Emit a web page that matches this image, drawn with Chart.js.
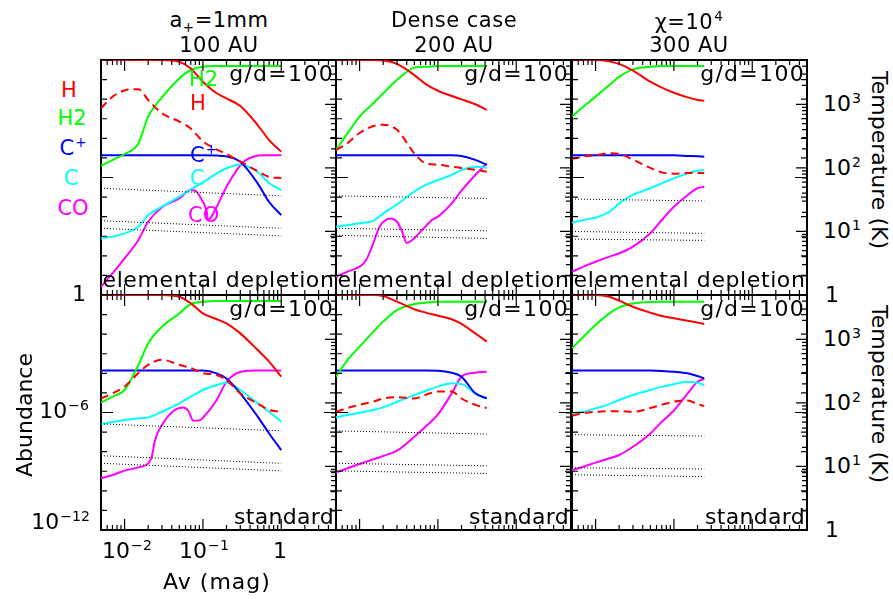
<!DOCTYPE html>
<html>
<head>
<meta charset="utf-8">
<script src="https://cdn.jsdelivr.net/npm/chart.js@4.4.1/dist/chart.umd.min.js"></script>
<style>
  body { margin: 0; background: #fff; }
  #wrap { position: relative; width: 893px; height: 599px; overflow: hidden; font-family: "DejaVu Sans", sans-serif; color: #000; }
  #wrap canvas { position: absolute; }
  .t { position: absolute; white-space: nowrap; font-size: 22px; line-height: 1; }
  .sp { font-size: 0.64em; position: relative; top: -0.6em; margin-left: 1px; }
  .sb { font-size: 0.64em; position: relative; top: 0.35em; }
</style>
</head>
<body>
<div id="wrap"></div>
<script>
// ---- axis ticks ----
const xTickVals = [0.005, 0.006, 0.007, 0.008, 0.009, 0.01, 0.02, 0.03, 0.04, 0.05, 0.06, 0.07, 0.08, 0.09,
  0.1, 0.2, 0.3, 0.4, 0.5, 0.6, 0.7, 0.8, 0.9, 1, 2, 3, 4, 5];
const xMajorVals = [0.01, 0.1, 1];
const abTickVals = [1, 1e-1, 1e-2, 1e-3, 1e-4, 1e-5, 1e-6, 1e-7, 1e-8, 1e-9, 1e-10, 1e-11, 1e-12];
const abMajorVals = [1, 1e-6, 1e-12];
const tTickVals = [1, 2, 3, 4, 5, 6, 7, 8, 9, 10, 20, 30, 40, 50, 60, 70, 80, 90,
  100, 200, 300, 400, 500, 600, 700, 800, 900, 1000, 2000, 3000, 4000, 5000];
const tMajorVals = [1, 10, 100, 1000];

// ---- Av grids (mag) ----
const avFull = [0.005, 0.007, 0.01, 0.015, 0.02, 0.03, 0.05, 0.07, 0.1, 0.15, 0.2, 0.3, 0.5, 0.7, 1];
const avMid = [0.005, 0.007, 0.01, 0.015, 0.02, 0.03, 0.05, 0.07, 0.1, 0.15, 0.2, 0.3, 0.42];
const avShort = [0.005, 0.007, 0.01, 0.015, 0.02, 0.03, 0.05, 0.07, 0.1, 0.15, 0.2, 0.244];

// abundances are log10, temperatures are log10(K)
// panel 1: a+=1mm, 100 AU, elemental depletion
const p1H = [0, 0, 0, 0, 0, 0, -0.09, -0.43, -1.11, -1.70, -1.96, -2.35, -3.32, -4.09, -4.68];
const p1H2 = [-5.40, -5.11, -4.80, -4.26, -2.89, -1.91, -0.94, -0.51, -0.34, -0.31, -0.31, -0.31, -0.31, -0.31, -0.31];
const p1Cp = [-4.87, -4.87, -4.87, -4.87, -4.87, -4.87, -4.87, -4.87, -4.87, -4.88, -4.92, -5.20, -6.30, -7.25, -7.92];
const p1C = [-9.11, -9.02, -8.85, -8.51, -7.92, -7.49, -6.98, -6.61, -6.25, -5.79, -5.53, -5.33, -5.72, -6.28, -6.64];
const p1COav = [0.005, 0.007, 0.01, 0.015, 0.02, 0.03, 0.05, 0.069, 0.079, 0.097, 0.112, 0.116, 0.15, 0.2, 0.27, 0.33, 0.44, 0.6, 1];
const p1CO = [-11.58, -10.90, -10.13, -9.19, -8.26, -7.52, -7.07, -6.64, -6.66, -7.15, -7.75, -8.17, -7.49, -6.47, -5.62, -5.19, -4.94, -4.87, -4.87];
const p1T = [2.94, 3.12, 3.22, 3.24, 3.07, 2.86, 2.73, 2.62, 2.42, 2.29, 2.22, 2.10, 1.95, 1.86, 1.84];
const p1Dust = [[1.68, 1.56], [1.17, 1.05], [1.05, 0.93]];

// panel 2: dense case, 200 AU, elemental depletion
const p2H = [0, 0, 0, 0, -0.02, -0.20, -0.77, -1.23, -1.57, -1.84, -2.01, -2.26, -2.55];
const p2H2 = [-4.60, -3.75, -2.89, -2.21, -1.70, -1.02, -0.39, -0.34, -0.31, -0.31, -0.31, -0.31, -0.31];
const p2Cp = [-4.87, -4.87, -4.87, -4.87, -4.87, -4.87, -4.87, -4.87, -4.87, -4.87, -4.90, -5.10, -5.36];
const p2C = [-8.51, -8.43, -8.34, -8.21, -7.83, -7.38, -6.72, -6.38, -6.13, -5.87, -5.62, -5.45, -5.50];
const p2COav = [0.005, 0.007, 0.01, 0.012, 0.015, 0.018, 0.025, 0.03, 0.035, 0.04, 0.047, 0.063, 0.084, 0.1, 0.15, 0.2, 0.3, 0.42];
const p2CO = [-11.07, -10.81, -10.55, -10.25, -9.35, -8.51, -8.09, -8.26, -8.77, -9.35, -9.19, -8.68, -8.17, -8.00, -7.32, -6.67, -5.87, -5.28];
const p2T = [2.28, 2.39, 2.55, 2.66, 2.68, 2.60, 2.23, 2.07, 2.05, 2.02, 2.00, 1.97, 1.94];
const p2Dust = [[1.56, 1.52], [1.05, 1.01], [0.94, 0.89]];

// panel 3: chi=10^4, 300 AU, elemental depletion
const p3H = [0, 0, 0, -0.07, -0.20, -0.54, -1.11, -1.41, -1.67, -1.91, -2.04, -2.08];
const p3H2 = [-2.89, -2.38, -1.87, -1.28, -0.85, -0.48, -0.34, -0.31, -0.31, -0.31, -0.31, -0.31];
const p3Cp = [-4.87, -4.87, -4.87, -4.87, -4.87, -4.87, -4.87, -4.87, -4.87, -4.90, -4.92, -4.94];
const p3C = [-8.31, -8.17, -8.04, -7.75, -7.32, -6.89, -6.55, -6.30, -6.04, -5.79, -5.65, -5.62];
const p3CO = [-10.81, -10.55, -10.30, -10.04, -9.87, -9.53, -8.85, -8.17, -7.49, -6.89, -6.55, -6.47];
const p3T = [2.14, 2.18, 2.20, 2.23, 2.22, 2.13, 2.00, 1.93, 1.91, 1.92, 1.92, 1.92];
const p3Dust = [[1.51, 1.48], [1.00, 0.97], [0.88, 0.86]];

// panel 4: a+=1mm, standard
const p4H = [0, 0, 0, 0, 0, 0, -0.09, -0.43, -0.94, -1.24, -1.45, -1.96, -2.81, -3.40, -4.17];
const p4H2 = [-5.50, -5.19, -4.85, -3.58, -2.47, -1.62, -0.94, -0.46, -0.34, -0.31, -0.31, -0.31, -0.31, -0.31, -0.31];
const p4Cp = [-3.86, -3.86, -3.86, -3.86, -3.86, -3.86, -3.86, -3.86, -3.86, -4.00, -4.26, -5.02, -6.21, -7.07, -7.92];
const p4C = [-6.59, -6.49, -6.38, -6.30, -6.25, -5.96, -5.53, -5.19, -4.85, -4.60, -4.48, -4.85, -5.53, -5.96, -6.47];
const p4COav = [0.005, 0.007, 0.01, 0.015, 0.02, 0.0222, 0.0245, 0.03, 0.042, 0.056, 0.065, 0.0755, 0.092, 0.1, 0.15, 0.2, 0.3, 0.5, 1];
const p4CO = [-9.36, -9.19, -8.97, -8.80, -8.60, -8.26, -7.41, -6.64, -5.92, -5.74, -5.91, -6.42, -6.39, -6.27, -5.36, -4.43, -3.93, -3.86, -3.86];
const p4T = [2.07, 2.15, 2.26, 2.47, 2.60, 2.68, 2.60, 2.55, 2.47, 2.44, 2.36, 2.15, 1.99, 1.89, 1.86];
const p4Dust = [[1.67, 1.56], [1.17, 1.05], [1.05, 0.93]];

// panel 5: dense case, standard
const p5H = [0, 0, 0, 0, -0.05, -0.34, -0.73, -0.90, -1.06, -1.24, -1.48, -1.96, -2.38];
const p5H2 = [-4.17, -3.32, -2.64, -1.87, -1.36, -0.77, -0.46, -0.39, -0.34, -0.34, -0.34, -0.34, -0.34];
const p5Cp = [-3.86, -3.86, -3.86, -3.86, -3.86, -3.86, -3.86, -3.86, -3.87, -3.97, -4.17, -5.02, -5.28];
const p5C = [-6.25, -6.13, -6.01, -5.87, -5.74, -5.45, -5.11, -4.90, -4.68, -4.51, -4.55, -5.02, -5.31];
const p5CO = [-9.07, -8.85, -8.63, -8.39, -8.22, -7.95, -7.24, -6.72, -6.10, -5.02, -4.17, -3.97, -3.92];
const p5T = [1.86, 1.92, 1.97, 2.02, 2.07, 2.09, 2.07, 2.13, 2.18, 2.18, 2.07, 1.97, 1.92];
const p5Dust = [[1.56, 1.51], [1.05, 1.01], [0.93, 0.89]];

// panel 6: chi=10^4, standard
const p6H = [0, 0, 0, -0.09, -0.29, -0.60, -0.90, -1.07, -1.19, -1.31, -1.41, -1.48];
const p6H2 = [-2.72, -2.13, -1.53, -0.94, -0.63, -0.43, -0.36, -0.34, -0.34, -0.34, -0.34, -0.34];
const p6Cp = [-3.86, -3.86, -3.86, -3.86, -3.86, -3.86, -3.86, -3.88, -3.92, -4.00, -4.14, -4.26];
const p6C = [-6.04, -5.96, -5.79, -5.57, -5.36, -5.11, -4.85, -4.68, -4.55, -4.43, -4.48, -4.60];
const p6CO = [-8.94, -8.77, -8.56, -8.34, -8.17, -7.75, -7.07, -6.47, -5.90, -5.02, -4.43, -4.29];
const p6T = [1.80, 1.84, 1.86, 1.87, 1.87, 1.86, 1.92, 1.97, 2.02, 2.04, 1.98, 1.95];
const p6Dust = [[1.50, 1.48], [0.98, 0.96], [0.87, 0.84]];

const wrap = document.getElementById("wrap");
const PAD = 6;
const PW = 235, PH = 235;

const panels = [
  { left: 101, top: 60, av: avFull, H: p1H, H2: p1H2, Cp: p1Cp, C: p1C, COav: p1COav, CO: p1CO, T: p1T, dust: p1Dust },
  { left: 336, top: 60, av: avMid, H: p2H, H2: p2H2, Cp: p2Cp, C: p2C, COav: p2COav, CO: p2CO, T: p2T, dust: p2Dust },
  { left: 572, top: 60, av: avShort, H: p3H, H2: p3H2, Cp: p3Cp, C: p3C, COav: avShort, CO: p3CO, T: p3T, dust: p3Dust },
  { left: 101, top: 295, av: avFull, H: p4H, H2: p4H2, Cp: p4Cp, C: p4C, COav: p4COav, CO: p4CO, T: p4T, dust: p4Dust },
  { left: 336, top: 295, av: avMid, H: p5H, H2: p5H2, Cp: p5Cp, C: p5C, COav: avMid, CO: p5CO, T: p5T, dust: p5Dust },
  { left: 572, top: 295, av: avShort, H: p6H, H2: p6H2, Cp: p6Cp, C: p6C, COav: avShort, CO: p6CO, T: p6T, dust: p6Dust },
];

function pts(av, logv) {
  return av.map((a, i) => ({ x: a, y: Math.pow(10, logv[i]) }));
}

// frame + inward ticks on all four sides, IDL style
const boxPlugin = {
  id: "box",
  beforeDatasetsDraw(chart) {
    const { ctx, chartArea: a } = chart;
    ctx.save();
    ctx.strokeStyle = "#000";
    ctx.lineWidth = 2;
    ctx.strokeRect(a.left, a.top, a.right - a.left, a.bottom - a.top);
    ctx.restore();
  },
  afterDatasetsDraw(chart) {
    const { ctx, chartArea: a, scales } = chart;
    ctx.save();
    ctx.strokeStyle = "#000";
    ctx.lineWidth = 1.2;
    ctx.beginPath();
    const seg = (x1, y1, x2, y2) => { ctx.moveTo(x1, y1); ctx.lineTo(x2, y2); };
    xTickVals.forEach(v => {
      const px = scales.x.getPixelForValue(v);
      const len = xMajorVals.includes(v) ? 11 : 5;
      seg(px, a.bottom, px, a.bottom - len);
      seg(px, a.top, px, a.top + len);
    });
    abTickVals.forEach(v => {
      const py = scales.y.getPixelForValue(v);
      const len = abMajorVals.includes(v) ? 12 : 6;
      seg(a.left, py, a.left + len, py);
      seg(a.right, py, a.right - len, py);
    });
    tTickVals.forEach(v => {
      const py = scales.t.getPixelForValue(v);
      const len = tMajorVals.includes(v) ? 11 : 5;
      seg(a.right, py, a.right - len, py);
    });
    ctx.stroke();
    ctx.restore();
  }
};

panels.forEach(p => {
  const cv = document.createElement("canvas");
  cv.width = PW + 2 * PAD;
  cv.height = PH + 2 * PAD;
  cv.style.left = (p.left - PAD) + "px";
  cv.style.top = (p.top - PAD) + "px";
  wrap.appendChild(cv);

  const ends = [p.av[0], p.av[p.av.length - 1]];
  const datasets = [];
  p.dust.forEach(d => datasets.push({
    data: pts(ends, d), yAxisID: "t", borderColor: "#000", borderWidth: 1, borderDash: [1, 2]
  }));
  datasets.push({ data: pts(p.av, p.T), yAxisID: "t", borderColor: "#ff0000", borderDash: [8, 5] });
  datasets.push({ data: pts(p.av, p.H), yAxisID: "y", borderColor: "#ff0000" });
  datasets.push({ data: pts(p.av, p.H2), yAxisID: "y", borderColor: "#00ff00" });
  datasets.push({ data: pts(p.av, p.Cp), yAxisID: "y", borderColor: "#0000ff" });
  datasets.push({ data: pts(p.av, p.C), yAxisID: "y", borderColor: "#00ffff" });
  datasets.push({ data: pts(p.COav, p.CO), yAxisID: "y", borderColor: "#ff00ff" });

  new Chart(cv, {
    type: "line",
    data: { datasets },
    options: {
      responsive: false,
      animation: false,
      devicePixelRatio: 1,
      layout: { padding: PAD },
      plugins: { legend: { display: false }, tooltip: { enabled: false } },
      elements: {
        point: { radius: 0 },
        line: { borderWidth: 2, cubicInterpolationMode: "monotone", fill: false }
      },
      scales: {
        x: { type: "logarithmic", min: 0.005, max: 5, bounds: "data", display: false },
        y: { type: "logarithmic", min: 1e-12, max: 1, bounds: "data", display: false },
        t: { type: "logarithmic", min: 1, max: 5000, bounds: "data", display: false, position: "right" }
      }
    },
    plugins: [boxPlugin]
  });
});

// ---- text ----
function label(html, x, y, o = {}) {
  const d = document.createElement("div");
  d.className = "t";
  d.innerHTML = html;
  d.style.left = x + "px";
  d.style.top = y + "px";
  const ax = o.align === "left" ? "0" : o.align === "right" ? "-100%" : "-50%";
  d.style.transform = `translate(${ax}, -50%)` + (o.rot ? ` rotate(${o.rot}deg)` : "");
  if (o.color) d.style.color = o.color;
  if (o.size) d.style.fontSize = o.size + "px";
  if (o.ls != null) d.style.letterSpacing = o.ls + "px";
  wrap.appendChild(d);
}

label('a<span class="sb">+</span>=1mm', 219, 20, { size: 21, ls: 0.5 });
label("100 AU", 219, 45, { size: 21, ls: 0.5 });
label("Dense case", 454, 20, { size: 21, ls: 0.5 });
label("200 AU", 454, 45, { size: 21, ls: 0.5 });
label('χ=10<span class="sp">4</span>', 689, 22, { size: 21, ls: 0.5 });
label("300 AU", 689, 45, { size: 21, ls: 0.5 });

panels.forEach((p, i) => {
  const right = p.left + PW;
  if (i < 3) {
    label("g/d=100", right - 2, p.top + 14, { align: "right", ls: 1.3 });
    label("elemental depletion", p.left + PW / 2, p.top + 220, { ls: 0.6 });
  } else {
    label("g/d=100", right - 2, p.top + 14, { align: "right", ls: 1.3 });
    label("standard", right - 2, p.top + 222, { align: "right", ls: 0.3 });
  }
});

// species key, left margin and on the curves of the first panel
label("H", 69, 90, { color: "#ff0000", size: 21 });
label("H2", 72, 118, { color: "#00ff00", size: 21 });
label('C<span class="sp">+</span>', 73, 148, { color: "#0000ff", size: 21 });
label("C", 71, 178, { color: "#00ffff", size: 21 });
label("CO", 73, 208, { color: "#ff00ff", size: 21 });
label("H2", 189, 79, { align: "left", color: "#00ff00", size: 21 });
label("H", 190, 103, { align: "left", color: "#ff0000", size: 21 });
label('C<span class="sp">+</span>', 190, 155, { align: "left", color: "#0000ff", size: 21 });
label("C", 190, 178, { align: "left", color: "#00ffff", size: 21 });
label("CO", 188, 215, { align: "left", color: "#ff00ff", size: 21 });

// abundance axis
label("1", 86, 294, { align: "right" });
label('10<span class="sp">−6</span>', 89, 411, { align: "right" });
label('10<span class="sp">−12</span>', 90, 522, { align: "right" });
label("Abundance", 25, 415, { rot: -90 });

// Av axis
label('10<span class="sp">−2</span>', 127, 551);
label('10<span class="sp">−1</span>', 204, 551);
label("1", 280, 551);
label("Av (mag)", 217, 582, { ls: 1 });

// temperature axis
[[104, "10<span class=\"sp\">3</span>"], [168, "10<span class=\"sp\">2</span>"], [231, "10<span class=\"sp\">1</span>"],
 [339, "10<span class=\"sp\">3</span>"], [403, "10<span class=\"sp\">2</span>"], [466, "10<span class=\"sp\">1</span>"]]
  .forEach(([y, s]) => label(s, 823, y, { align: "left" }));
label("1", 825, 295, { align: "left" });
label("1", 825, 530, { align: "left" });
label("Temperature (K)", 879, 160, { rot: 90 });
label("Temperature (K)", 879, 394, { rot: 90 });
</script>
</body>
</html>
